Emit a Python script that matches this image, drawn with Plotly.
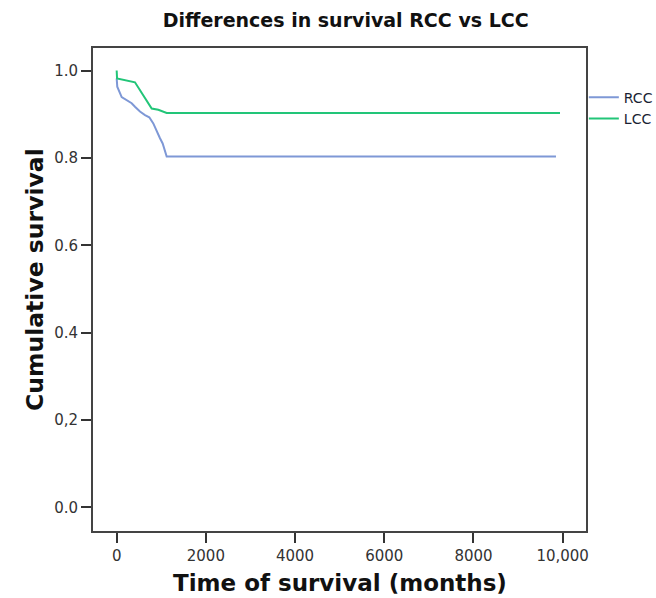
import plotly.graph_objects as go

# Kaplan-Meier style survival curves
rcc_time = [0, 13, 112, 224, 336, 410, 522, 635, 731, 821, 897, 971, 1031, 1121, 9850]
rcc_surv = [0.982, 0.963, 0.939, 0.932, 0.925, 0.917, 0.906, 0.898, 0.893, 0.879, 0.860, 0.845, 0.833, 0.803, 0.803]

lcc_time = [0, 8, 410, 597, 785, 933, 1121, 9940]
lcc_surv = [1.0, 0.982, 0.973, 0.944, 0.913, 0.910, 0.903, 0.903]

x_ticks = [0, 2000, 4000, 6000, 8000, 10000]
x_tick_labels = ["0", "2000", "4000", "6000", "8000", "10,000"]
y_ticks = [0.0, 0.2, 0.4, 0.6, 0.8, 1.0]
y_tick_labels = ["0.0", "0,2", "0.4", "0.6", "0.8", "1.0"]

FONT = "DejaVu Sans"

fig = go.Figure()
fig.add_trace(go.Scatter(x=rcc_time, y=rcc_surv, mode="lines", name="RCC",
                         line=dict(color="#7E98D6", width=2)))
fig.add_trace(go.Scatter(x=lcc_time, y=lcc_surv, mode="lines", name="LCC",
                         line=dict(color="#22C578", width=2)))

fig.update_layout(
    width=656, height=598,
    margin=dict(l=93, r=70, t=48, b=67, autoexpand=False),
    paper_bgcolor="white", plot_bgcolor="white",
    font=dict(family=FONT, color="#222222"),
    title=dict(text="<b>Differences in survival RCC vs LCC</b>",
               font=dict(family=FONT, size=19, color="#111111"),
               x=0.527, xanchor="center", y=1 - 20 / 598, yanchor="middle"),
    legend=dict(xref="container", yref="container",
                x=0.890, xanchor="left", y=0.8635, yanchor="top",
                font=dict(family=FONT, size=14, color="#1a1f33"),
                bgcolor="rgba(0,0,0,0)", tracegroupgap=0),
    showlegend=True,
    annotations=[
        dict(text="<b>Cumulative survival</b>", xref="paper", yref="paper",
             x=-0.1176, y=0.5197, xanchor="center", yanchor="middle",
             textangle=-90, showarrow=False,
             font=dict(family=FONT, size=23.5, color="#111111")),
        dict(text="<b>Time of survival (months)</b>", xref="paper", yref="paper",
             x=0.501, y=-0.1077, xanchor="center", yanchor="middle",
             showarrow=False,
             font=dict(family=FONT, size=23, color="#111111")),
    ],
)

fig.update_xaxes(
    range=[-531, 10523],
    tickmode="array", tickvals=x_ticks, ticktext=x_tick_labels,
    ticks="outside", ticklen=10, tickwidth=2, tickcolor="#333333",
    tickfont=dict(family=FONT, size=15, color="#333333"),
    showgrid=False, zeroline=False,
    showline=True, linecolor="#444444", linewidth=2, mirror=True,
)
fig.update_yaxes(
    range=[-0.054, 1.0515],
    tickmode="array", tickvals=y_ticks, ticktext=y_tick_labels,
    ticks="outside", ticklen=10, tickwidth=2, tickcolor="#333333",
    tickfont=dict(family=FONT, size=15, color="#333333"),
    showgrid=False, zeroline=False,
    showline=True, linecolor="#444444", linewidth=2, mirror=True,
)

fig.write_html("out.html",
               config={"displayModeBar": False},
               post_script="document.body.style.margin='0';document.body.style.overflow='hidden';")
